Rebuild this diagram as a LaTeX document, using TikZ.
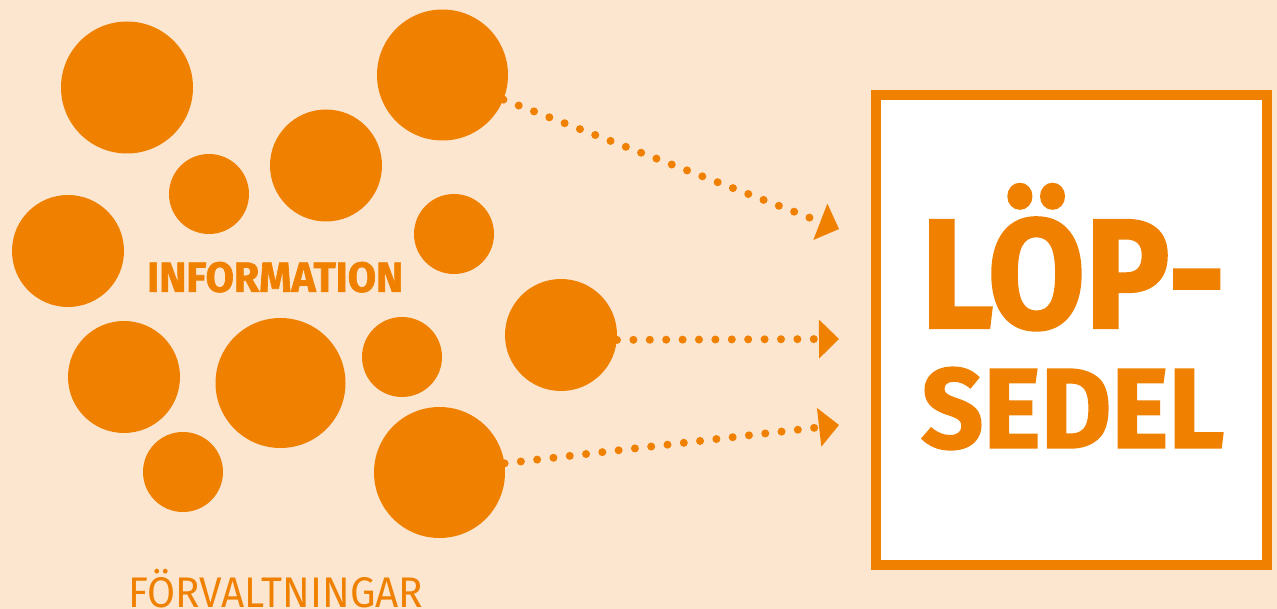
\documentclass[tikz,border=0pt]{standalone}
\usepackage{fontspec}
\setmainfont{Fira Sans}
\newfontfamily\heavyfont{Fira Sans}[BoldFeatures={FakeBold=1.6}]
\usepackage{graphicx}
\usepackage{xcolor}
\usepackage{tikz}
\usetikzlibrary{arrows.meta,calc,positioning}
\definecolor{bgpeach}{HTML}{FDE6D0}
\definecolor{brandorange}{HTML}{F08000}
\newcommand{\fitcap}[3]{\resizebox{#1}{#2}{\raisebox{0pt}[\fontcharht\font`E][0pt]{#3}}}
\tikzset{
  blob/.style={circle,fill=brandorange,inner sep=0pt,minimum size=#1},
  flow/.style={draw=brandorange,line width=8pt,line cap=round,dash pattern=on 0pt off 16.4pt,
    -{Triangle[length=20pt,width=39pt,line width=0pt]}},
  card/.style={draw=brandorange,fill=white,line width=10pt,inner sep=0pt},
  caption/.style={anchor=south west,inner sep=0pt,text=brandorange}
}

\begin{document}
\begin{tikzpicture}[x=1pt,y=-1pt,>=Latex]
\fill[bgpeach] (0,0) rectangle (1277,609);
\node[blob=132pt] (c1) at (127,87.5) {};
\node[blob=131pt] (c2) at (442.5,75) {};
\node[blob=112pt] (c3) at (326,165.5) {};
\node[blob=80pt] (c4) at (209,194) {};
\node[blob=112pt] (c5) at (68,251) {};
\node[blob=80pt] (c6) at (454,234) {};
\node[blob=112pt] (c7) at (561,335) {};
\node[blob=112pt] (c8) at (124,377) {};
\node[blob=130pt] (c9) at (280.5,383) {};
\node[blob=80pt] (c10) at (402,357) {};
\node[blob=80pt] (c11) at (183,472) {};
\node[blob=131pt] (c12) at (439.5,472.5) {};
\node[caption] (info) at (147,292) {\fitcap{256pt}{29pt}{\heavyfont\bfseries INFORMATION}};
\node[caption] (forv) at (128,607.5) {\fitcap{295pt}{29.5pt}{FÖRVALTNINGAR}};
\node[card,minimum width=391pt,minimum height=470pt] (sedel) at (1071.5,330) {};
\node[caption] (lop) at (921,328) {\fitcap{304pt}{107pt}{\heavyfont\bfseries LÖP-}};
\node[caption] (sed) at (921,448) {\fitcap{303pt}{78pt}{\heavyfont\bfseries SEDEL}};
\coordinate (t1) at (839,229);
\coordinate (t2) at (839,339);
\coordinate (t3) at (839,425);
\draw[flow] (c2.-22) -- (t1);
\draw[flow] (c7.-5) -- (t2);
\draw[flow] (c12.8) -- (t3);
\end{tikzpicture}
\end{document}
